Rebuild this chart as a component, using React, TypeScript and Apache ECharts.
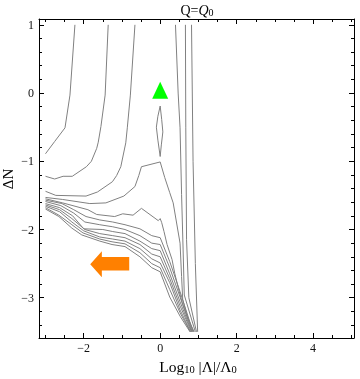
import React, { useEffect, useRef } from 'react';
import * as echarts from 'echarts';

// Axis ticks
const X_MAJOR = [-2, 0, 2, 4];
const X_MINOR = [-3, -2.5, -1.5, -1, -0.5, 0.5, 1, 1.5, 2.5, 3, 3.5, 4.5, 5];
const Y_MAJOR = [-3, -2, -1, 0, 1];
const Y_MINOR = [-3.4, -3.2, -2.8, -2.6, -2.4, -2.2, -1.8, -1.6, -1.4, -1.2, -0.8, -0.6, -0.4, -0.2, 0.2, 0.4, 0.6, 0.8];

// Contour lines [log10 |Λ|/Λ0, ΔN]
const lineA = [[-2.23, 1.0], [-2.36, -0.03], [-2.49, -0.51], [-2.76, -0.71], [-3.0, -0.89]];
const lineB = [[-1.36, 1.0], [-1.44, -0.03], [-1.55, -0.49], [-1.62, -0.72], [-1.66, -0.81], [-1.8, -1.0], [-1.93, -1.08], [-2.3, -1.22], [-2.54, -1.22], [-2.76, -1.26], [-3.0, -1.22]];
const lineC = [[-0.66, 1.0], [-0.78, -0.03], [-0.86, -0.51], [-0.9, -0.73], [-1.03, -1.08], [-1.14, -1.21], [-1.25, -1.3], [-1.64, -1.45], [-1.94, -1.51], [-2.73, -1.5], [-3.0, -1.44]];
const lineL4 = [[-3.0, -1.53], [-2.55, -1.56], [-1.84, -1.62], [-1.42, -1.61], [-0.95, -1.51], [-0.66, -1.37], [-0.56, -1.21], [-0.49, -1.08], [0.0, -1.01], [0.12, -1.24], [0.25, -1.46], [0.34, -1.61], [0.52, -2.2], [0.56, -2.69], [0.59, -3.03], [0.72, -3.3], [0.89, -3.5]];
const lineL5 = [[-3.0, -1.55], [-2.55, -1.61], [-1.89, -1.71], [-1.66, -1.78], [-1.19, -1.81], [-0.98, -1.77], [-0.71, -1.79], [-0.49, -1.69], [-0.05, -1.87], [0.0, -1.84], [0.04, -1.9], [0.1, -2.03], [0.18, -2.22], [0.31, -2.44], [0.38, -2.64], [0.47, -2.85], [0.59, -3.1], [0.87, -3.5]];
const lineB0 = [[-3.0, -1.57], [-2.57, -1.62], [-2.26, -1.71], [-1.94, -1.81], [-1.58, -1.86], [-1.24, -1.89], [-0.92, -1.93], [-0.53, -1.99], [-0.22, -2.09], [0.0, -2.12], [0.25, -2.47], [0.52, -2.91], [0.86, -3.5]];
const lineB1 = [[-3.0, -1.59], [-2.6, -1.65], [-2.26, -1.76], [-1.97, -1.89], [-1.58, -1.93], [-1.24, -1.96], [-0.92, -2.0], [-0.53, -2.09], [-0.22, -2.2], [0.0, -2.22], [0.25, -2.56], [0.52, -2.99], [0.84, -3.5]];
const lineB2 = [[-3.0, -1.62], [-2.63, -1.68], [-2.29, -1.8], [-2.0, -1.99], [-1.5, -2.0], [-1.24, -2.03], [-0.92, -2.06], [-0.53, -2.17], [-0.22, -2.28], [0.0, -2.31], [0.25, -2.65], [0.52, -3.06], [0.83, -3.5]];
const lineB3 = [[-3.0, -1.64], [-2.63, -1.71], [-2.31, -1.84], [-1.97, -2.0], [-1.58, -2.06], [-1.24, -2.09], [-0.92, -2.12], [-0.53, -2.22], [-0.22, -2.36], [0.0, -2.4], [0.25, -2.72], [0.52, -3.12], [0.82, -3.5]];
const lineB4 = [[-3.0, -1.66], [-2.63, -1.74], [-2.31, -1.89], [-2.0, -2.02], [-1.58, -2.11], [-1.24, -2.14], [-0.92, -2.17], [-0.53, -2.28], [-0.22, -2.43], [0.0, -2.49], [0.25, -2.78], [0.52, -3.18], [0.8, -3.5]];
const lineB5 = [[-3.0, -1.68], [-2.65, -1.79], [-2.31, -1.93], [-2.02, -2.05], [-1.58, -2.14], [-1.26, -2.18], [-0.92, -2.21], [-0.53, -2.34], [-0.22, -2.5], [0.0, -2.56], [0.25, -2.88], [0.52, -3.22], [0.79, -3.5]];
const lineB6 = [[-3.0, -1.7], [-2.65, -1.81], [-2.31, -1.98], [-2.05, -2.08], [-1.58, -2.17], [-1.26, -2.22], [-0.92, -2.25], [-0.53, -2.4], [-0.22, -2.56], [0.0, -2.62], [0.25, -2.99], [0.52, -3.27], [0.78, -3.5]];
const lineD = [[0.4, 1.0], [0.47, 0.0], [0.52, -0.51], [0.56, -1.49], [0.6, -2.3], [0.63, -2.96], [0.92, -3.5]];
const lineE = [[0.66, 1.0], [0.67, -0.5], [0.69, -2.15], [0.75, -3.0], [0.95, -3.5]];
const lineF = [[0.82, 1.0], [0.86, -1.0], [0.92, -2.5], [0.98, -3.5]];
const loopLens = [[0.0, -0.19], [-0.06, -0.34], [-0.1, -0.5], [-0.06, -0.69], [0.0, -0.93], [0.03, -0.76], [0.07, -0.57], [0.04, -0.39], [0.0, -0.19]];

const CONTOURS = [lineA, lineB, lineC, lineL4, lineL5, lineB0, lineB1, lineB2, lineB3, lineB4, lineB5, lineB6, lineD, lineE, lineF, loopLens];

// Markers
const triangleMarker = [[0.0, 0.04]];
const arrowMarker = [[-1.32, -2.51]];

const X_MIN = -3.17, X_MAX = 5.07, Y_MIN = -3.59, Y_MAX = 1.085;
const FONT = 'Liberation Serif, Times New Roman, serif';

const fmt = (v: number) => (v < 0 ? '\u2212' + Math.abs(v) : String(v));

export default function App() {
  const ref = useRef<HTMLDivElement>(null);
  useEffect(() => {
    if (!ref.current) return;
    const chart = echarts.init(ref.current, undefined, { renderer: 'svg' });
    const axisLineStyle = { color: '#000', width: 1 };
    const mkX = (position: string, major: boolean, labels: boolean) => ({
      type: 'value', position, min: X_MIN, max: X_MAX,
      axisLine: { show: major, onZero: false, lineStyle: axisLineStyle },
      axisTick: { show: true, inside: true, length: major ? 5 : 3, customValues: major ? X_MAJOR : X_MINOR, lineStyle: axisLineStyle },
      axisLabel: labels
        ? { show: true, customValues: X_MAJOR, formatter: fmt, fontFamily: FONT, fontSize: 12, color: '#111', margin: 4 }
        : { show: false },
      splitLine: { show: false },
    });
    const mkY = (position: string, major: boolean, labels: boolean) => ({
      type: 'value', position, min: Y_MIN, max: Y_MAX,
      axisLine: { show: major, onZero: false, lineStyle: axisLineStyle },
      axisTick: { show: true, inside: true, length: major ? 5 : 3, customValues: major ? Y_MAJOR : Y_MINOR, lineStyle: axisLineStyle },
      axisLabel: labels
        ? { show: true, customValues: Y_MAJOR, formatter: fmt, fontFamily: FONT, fontSize: 12, color: '#111', margin: 5 }
        : { show: false },
      splitLine: { show: false },
    });
    const arrowPath = 'path://M0,12.8 L11.7,0 L11.7,5.6 L39.3,5.6 L39.3,19 L11.7,19 L11.7,25.6 Z';
    chart.setOption({
      animation: false,
      grid: { left: 39, right: 6, top: 19, bottom: 41 },
      xAxis: [mkX('bottom', true, true), mkX('bottom', false, false), mkX('top', true, false), mkX('top', false, false)],
      yAxis: [mkY('left', true, true), mkY('left', false, false), mkY('right', true, false), mkY('right', false, false)],
      series: [
        ...CONTOURS.map((d) => ({
          type: 'line', data: d, xAxisIndex: 0, yAxisIndex: 0,
          showSymbol: false, symbol: 'none',
          lineStyle: { color: '#808080', width: 1 },
          silent: true,
        })),
        {
          type: 'scatter', data: triangleMarker, xAxisIndex: 0, yAxisIndex: 0,
          symbol: 'triangle', symbolSize: [16, 17],
          itemStyle: { color: '#00ff00', opacity: 1 }, silent: true,
        },
        {
          type: 'scatter', data: arrowMarker, xAxisIndex: 0, yAxisIndex: 0,
          symbol: arrowPath, symbolSize: [39, 26], symbolKeepAspect: false,
          itemStyle: { color: '#ff8000', opacity: 1 }, silent: true,
        },
      ],
      graphic: [
        {
          type: 'text', x: 197, y: 10,
          style: {
            text: '{n|Q=}{i|Q}{s|0}',
            align: 'center', verticalAlign: 'middle',
            rich: {
              n: { fontFamily: FONT, fontSize: 14, color: '#000', lineHeight: 16 },
              i: { fontFamily: FONT, fontSize: 14, fontStyle: 'italic', color: '#000', lineHeight: 16 },
              s: { fontFamily: FONT, fontSize: 10, color: '#000', padding: [5, 0, 0, 0], lineHeight: 11 },
            },
          },
        },
        {
          type: 'text', x: 198, y: 366,
          style: {
            text: '{n|Log}{s|10}{n| |\u039b|/\u039b}{s|0}',
            align: 'center', verticalAlign: 'middle',
            rich: {
              n: { fontFamily: FONT, fontSize: 15.5, color: '#000', lineHeight: 17 },
              s: { fontFamily: FONT, fontSize: 10.5, color: '#000', padding: [6, 0, 0, 0], lineHeight: 12 },
            },
          },
        },
        {
          type: 'text', x: 8, y: 179, rotation: Math.PI / 2,
          style: {
            text: '\u0394N', align: 'center', verticalAlign: 'middle',
            fontFamily: FONT, fontSize: 15, fill: '#000',
          },
        },
      ],
    });
    return () => chart.dispose();
  }, []);
  return <div ref={ref} style={{ position: 'fixed', left: 0, top: 0, width: 360, height: 379 }} />;
}
